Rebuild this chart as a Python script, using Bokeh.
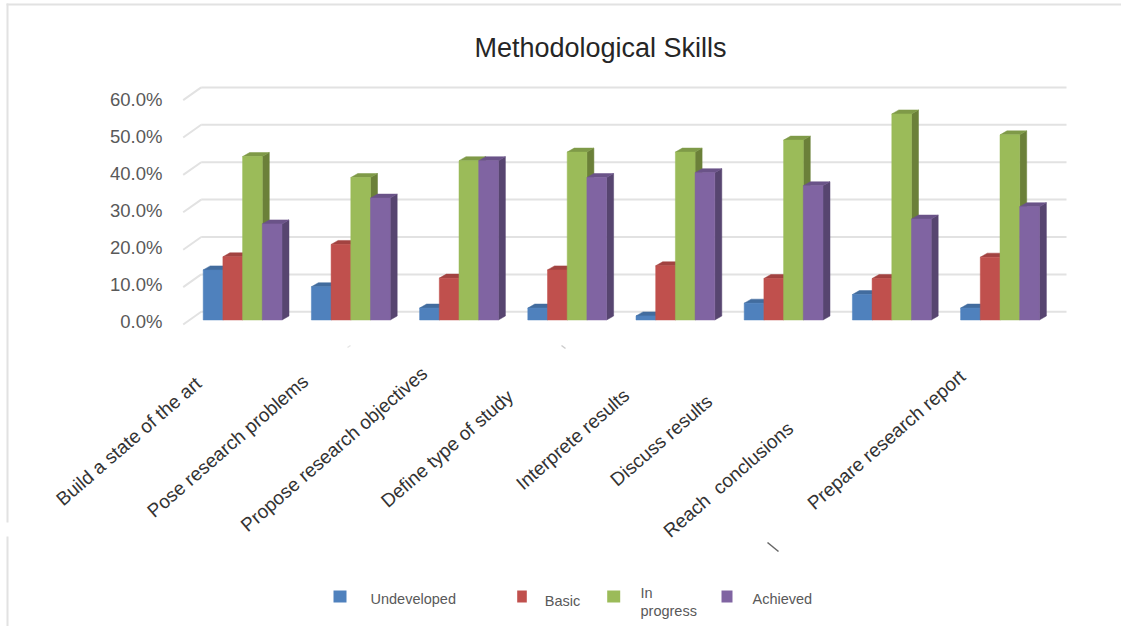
from bokeh.plotting import figure
from bokeh.models import (BoxAnnotation, ColumnDataSource, FixedTicker, Label, LinearAxis,
                          Range1d)
from bokeh.embed import file_html
from bokeh.resources import INLINE
from bokeh.core.properties import value

title_text = "Methodological Skills"
categories = ["Build a state of the art", "Pose research problems",
              "Propose research objectives", "Define type of study",
              "Interprete results", "Discuss results", "Reach\u00a0 conclusions",
              "Prepare research report"]
undeveloped = [13.4, 8.9, 3.2, 3.2, 1.1, 4.5, 6.8, 3.2]
basic = [16.9, 20.2, 11.2, 13.4, 14.5, 11.1, 11.1, 16.8]
in_progress = [43.7, 38.1, 42.6, 44.9, 44.9, 48.1, 55.1, 49.5]
achieved = [25.7, 32.6, 42.6, 38.1, 39.4, 35.9, 27.0, 30.3]
series_names = ["Undeveloped", "Basic", "In\nprogress", "Achieved"]
y_ticks = [0, 10, 20, 30, 40, 50, 60]

# ---- layout (pixels of the 1121x626 picture) ----
FIG_W, FIG_H = 1121, 626
GROUP_X0, GROUP_STEP, BAR_PX = 202.7, 108.2, 19.7
ZERO_Y, PX_PER_UNIT = 319.5, 3.74
LBL_ZERO_Y, LBL_PX_PER_UNIT = 321.0, 3.70
SIDE_X, SIDE_Y = 7.0, 4.0

fronts = ["#4f81bd", "#c0504d", "#9bbb59", "#8064a2"]
sides = ["#3a5f8c", "#8e3b39", "#6b8039", "#574570"]
tops = ["#426c9e", "#a24341", "#7f9a48", "#6a5388"]
GRID = "#e2e2e2"
TXT = "#595959"

def rx(px):
    return (px - GROUP_X0) / GROUP_STEP

def ry(px):
    return (ZERO_Y - px) / PX_PER_UNIT

p = figure(width=FIG_W, height=FIG_H, output_backend="svg", toolbar_location=None,
           x_range=Range1d(rx(0), rx(FIG_W)),
           y_range=Range1d(ry(FIG_H), ry(0)),
           x_axis_location=None, y_axis_location=None,
           min_border_left=0, min_border_right=0, min_border_top=0,
           min_border_bottom=0, outline_line_color=None, background_fill_color="white")
p.grid.visible = False

p.add_layout(Label(x=rx(600), y=ry(47), text=title_text, text_align="center",
                   text_baseline="middle", text_font="Liberation Sans",
                   text_font_size="27px", text_color="#262626"))

# value axis: its labels sit on the front ends of the slanted grid ticks
p.extra_y_ranges["labels"] = Range1d((LBL_ZERO_Y - FIG_H) / LBL_PX_PER_UNIT,
                                     LBL_ZERO_Y / LBL_PX_PER_UNIT)
yaxis = LinearAxis(y_range_name="labels", ticker=FixedTicker(ticks=y_ticks),
                   axis_line_color=None, major_tick_line_color=None,
                   minor_tick_line_color=None, major_label_text_color=TXT,
                   major_label_text_font="Liberation Sans",
                   major_label_text_font_size="18.5px", major_label_standoff=0,
                   major_label_overrides={t: f"{t:.1f}%" for t in y_ticks},
                   fixed_location=rx(168))
p.add_layout(yaxis, "left")

# picture border (thin, light)
for l, r, t, b in [(6, FIG_W, 3, 5), (6, 8, 3, 522), (6, 8, 536, FIG_H)]:
    p.add_layout(BoxAnnotation(left=l, right=r, top=t, bottom=b, left_units="canvas",
                               right_units="canvas", top_units="canvas",
                               bottom_units="canvas", fill_color=GRID, fill_alpha=1,
                               line_color=None, level="annotation"))

# back wall grid with its slanted ends
back_dy = (ZERO_Y - 311.3) / PX_PER_UNIT
front_dy = (ZERO_Y - 324.0) / PX_PER_UNIT
p.segment([rx(200.7)] * len(y_ticks), [t + back_dy for t in y_ticks],
          [rx(1066)] * len(y_ticks), [t + back_dy for t in y_ticks],
          line_color=GRID, line_width=2)
p.segment([rx(182.7)] * len(y_ticks), [t + front_dy for t in y_ticks],
          [rx(200.7)] * len(y_ticks), [t + back_dy for t in y_ticks],
          line_color=GRID, line_width=2)

# bars: side and top faces first, each following bar's front covers the previous side
w = BAR_PX / GROUP_STEP
dx = SIDE_X / GROUP_STEP
dy = SIDE_Y / PX_PER_UNIT
for k, vals in enumerate([undeveloped, basic, in_progress, achieved]):
    lefts = [i + k * w for i in range(len(vals))]
    rights = [x + w for x in lefts]
    p.patches([[r, r + dx, r + dx, r] for r in rights],
              [[0, dy, v + dy, v] for v in vals],
              fill_color=sides[k], line_color=sides[k], line_width=0.5)
    p.patches([[l, l + dx, r + dx, r] for l, r in zip(lefts, rights)],
              [[v, v + dy, v + dy, v] for v in vals],
              fill_color=tops[k], line_color=tops[k], line_width=0.5)
    p.vbar(x=[(l + r) / 2 for l, r in zip(lefts, rights)], width=w, bottom=0, top=vals,
           fill_color=fronts[k], line_color=fronts[k], line_width=0.5)

# category labels: irregular in the picture, so each has its own pixel offset
label_ends = [(198, 380), (305, 378), (424, 370), (510, 393),
              (626, 392), (709, 398), (790, 425), (962, 373)]
cat_src = ColumnDataSource(dict(
    x=list(range(len(categories))),
    y=[0] * len(categories),
    text=categories,
    xo=[ex - (GROUP_X0 + GROUP_STEP * i) for i, (ex, _) in enumerate(label_ends)],
    yo=[ey - ZERO_Y for _, ey in label_ends]))
p.text("x", "y", text="text", x_offset="xo", y_offset="yo", source=cat_src,
       angle=41, angle_units="deg", text_align="right", text_baseline="middle",
       text_font=value("Liberation Sans"), text_font_size="19px", text_color="#333333")

# legend
swatches = [(333, 346), (516.7, 526.3), (606.7, 619.7), (721, 732)]
p.quad(left=[rx(a) for a, _ in swatches], right=[rx(b) for _, b in swatches],
       top=[ry(590)] * 4, bottom=[ry(602)] * 4, fill_color=fronts, line_color=None)
legend_pos = [(370, 598), (544.3, 600), (640, 601.5), (752, 598)]
p.text([rx(a) for a, _ in legend_pos], [ry(b) for _, b in legend_pos], text=series_names,
       text_align="left", text_baseline="middle", text_font=value("Liberation Sans"),
       text_font_size="14.5px", text_color=TXT, text_line_height=1.1)

# stray marks of the original image
p.segment([rx(767), rx(347), rx(561)], [ry(542), ry(347), ry(345)],
          [rx(778), rx(350), rx(565)], [ry(551), ry(345), ry(348)],
          line_color=["#666666", "#e6e6e6", "#cccccc"], line_width=1.5)

open("out.html", "w").write(file_html(p, INLINE))
